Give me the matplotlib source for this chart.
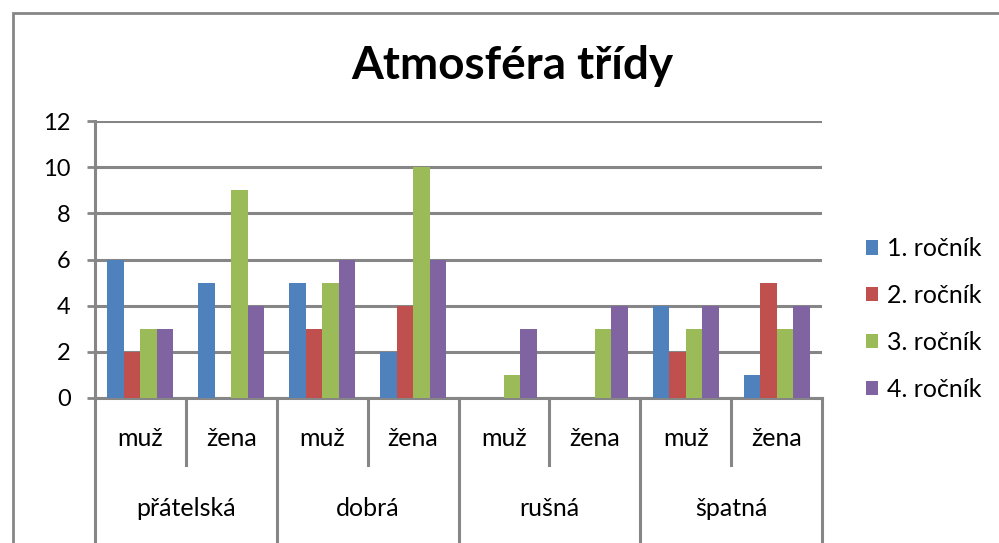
import matplotlib.pyplot as plt
from matplotlib.patches import Rectangle
import numpy as np

plt.rcParams['font.family'] = ['Lato', 'DejaVu Sans']

# data
groups = ['přátelská', 'dobrá', 'rušná', 'špatná']
genders = ['muž', 'žena']
series = ['1. ročník', '2. ročník', '3. ročník', '4. ročník']
rocnik1 = [6, 5, 5, 2, 0, 0, 4, 1]
rocnik2 = [2, 0, 3, 4, 0, 0, 2, 5]
rocnik3 = [3, 9, 5, 10, 1, 3, 3, 3]
rocnik4 = [3, 4, 6, 6, 3, 4, 4, 4]
values = [rocnik1, rocnik2, rocnik3, rocnik4]
colors = ['#4F81BD', '#C0504D', '#9BBB59', '#8064A2']
gray = '#868686'

W, H = 999, 543
fig = plt.figure(figsize=(W / 100, H / 100), dpi=100)

# outer chart frame (goes past right/bottom edge like the crop)
fig.patches.append(Rectangle((13 / W, -0.1), 1.2, (H - 13) / H + 0.1,
                             transform=fig.transFigure, fill=False,
                             edgecolor=gray, linewidth=2))

x0, x1, y0, y1 = 95, 822, 398, 121
ax = fig.add_axes([x0 / W, (H - y0) / H, (x1 - x0) / W, (y0 - y1) / H])
ax_h = y0 - y1

n = len(rocnik1)
w = 1 / 5.5
xs = np.arange(n) + 0.5
for j, (vals, c) in enumerate(zip(values, colors)):
    ax.bar(xs + (j - 1.5) * w, vals, width=w, color=c, label=series[j], zorder=3)

ax.set_xlim(0, n)
ax.set_ylim(0, 12)
ax.set_yticks(range(0, 13, 2))
ax.yaxis.grid(True, color=gray, linewidth=2.2, zorder=0)
ax.tick_params(axis='y', length=5.5, width=2, color=gray, pad=12, labelsize=17)
ax.set_xticks([])
for s in ['top', 'right']:
    ax.spines[s].set_visible(False)
for s in ['left', 'bottom']:
    ax.spines[s].set_color(gray)
    ax.spines[s].set_linewidth(2.2)

# two-level category axis
trans = ax.get_xaxis_transform()
for k in range(1, n, 2):
    ax.plot([k, k], [0, -(465 - y0) / ax_h], color=gray, lw=2.2, transform=trans, clip_on=False)
for k in range(0, n + 1, 2):
    ax.plot([k, k], [0, -(560 - y0) / ax_h], color=gray, lw=2.2, transform=trans, clip_on=False)
for i in range(n):
    ax.text(xs[i], -(438 - y0) / ax_h, genders[i % 2], transform=trans,
            ha='center', va='center', fontsize=18)
for g, name in enumerate(groups):
    ax.text(2 * g + 1, -(508 - y0) / ax_h, name, transform=trans,
            ha='center', va='center', fontsize=18)

fig.text(512 / W, (H - 66) / H, 'Atmosféra třídy', ha='center', va='center',
         fontsize=33, fontweight='bold')

fig.legend(loc='center left', bbox_to_anchor=(843 / W, (H - 319) / H), frameon=False,
           fontsize=18, handlelength=0.5, handleheight=0.5, handletextpad=0.35,
           labelspacing=0.95)

fig.savefig('out.png', dpi=100)
